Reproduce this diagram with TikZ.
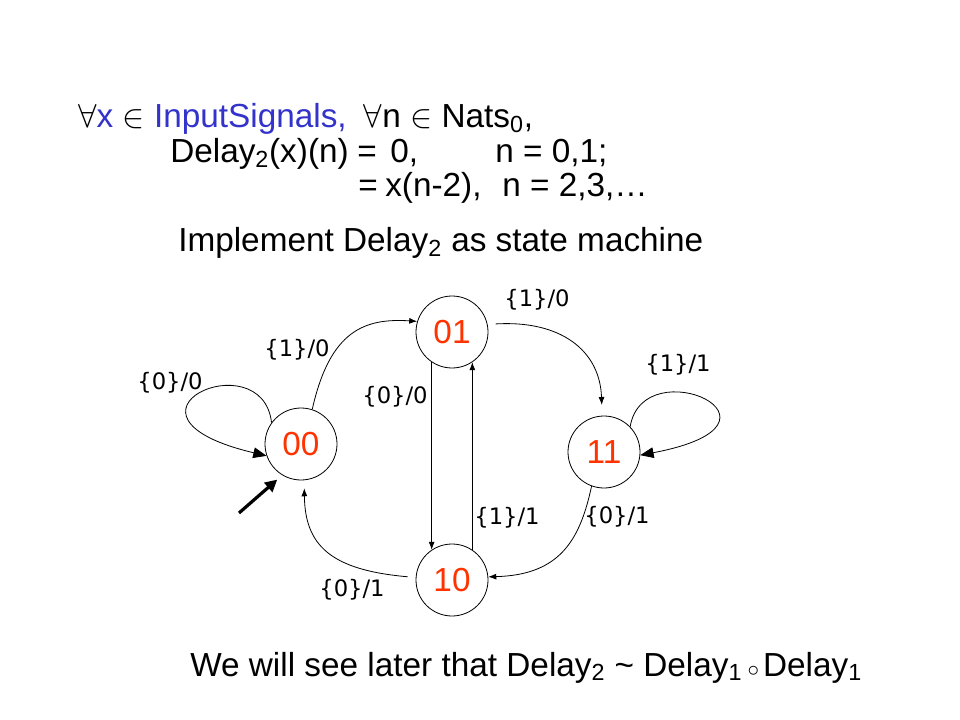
\documentclass[tikz,border=0pt]{standalone}
\usepackage{fontspec}
\setmainfont{Liberation Sans}
\newfontfamily\labelfont{DejaVu Sans}
\usetikzlibrary{arrows.meta}
\definecolor{sigblue}{RGB}{51,51,204}
\definecolor{statered}{RGB}{255,51,0}
\begin{document}
\begin{tikzpicture}
    [x=0.75pt,y=-0.75pt,
     stnode/.style={circle,draw,line width=0.6pt,minimum size=54pt,inner sep=0pt,text=statered,font=\fontsize{25}{30}\selectfont},
     txt/.style={anchor=base west,inner sep=0pt,font=\fontsize{25}{30}\selectfont},
     lab/.style={inner sep=0pt,font=\labelfont\fontsize{17}{20}\selectfont},
     trans/.style={line width=0.6pt,-{Latex[length=6pt,width=4.5pt]}},
     selfloop/.style={line width=0.6pt,-{Triangle[length=10pt,width=8pt]}}]
    \useasboundingbox (0,0) rectangle (960,720);

    \node[txt] (l1) at (78,128) {$\forall$\textcolor{sigblue}{x} $\in$ \textcolor{sigblue}{InputSignals,}\hspace{6pt} $\forall$n $\in$ Nats\textsubscript{0},};
    \node[txt] (l2a) at (170,163) {Delay\textsubscript{2}(x)(n)};
    \node[txt] (l2b) at (357,163) {=};
    \node[txt] (l2c) at (390,163) {0,};
    \node[txt] (l2d) at (495,163) {n = 0,1;};
    \node[txt] (l3a) at (358,197) {=};
    \node[txt] (l3b) at (385,197) {x(n-2),};
    \node[txt] (l3c) at (502,197) {n = 2,3,…};
    \node[txt] (l4) at (178,252) {Implement Delay\textsubscript{2} as state machine};
    \node[txt] (l5) at (190,676) {We will see later that Delay\textsubscript{2} \textasciitilde{} Delay\textsubscript{1}$\,\scriptstyle\circ\,$Delay\textsubscript{1}};

    \node[stnode] (s00) at (301,444) {00};
    \node[stnode] (s01) at (452,332) {01};
    \node[stnode] (s11) at (604,452) {11};
    \node[stnode] (s10) at (452,580) {10};
    \coordinate (init) at (239,513);

    \draw[trans] (s00.72) .. controls (330,330) and (365,318) .. (s01.163);
    \draw[trans,shorten <=6pt,shorten >=8pt] (s01.12) .. controls (560,320) and (600,350) .. (s11.93);
    \draw[trans] (s01.236) -- (s10.124);
    \draw[trans] (s10.56) -- (s01.304);
    \draw[trans] (s11.250) .. controls (580,540) and (560,575) .. (s10.5);
    \draw[trans,shorten <=6pt,shorten >=6pt] (s10.176) .. controls (330,570) and (305,545) .. (s00.-85);
    \draw[selfloop] (s00.144) .. controls (262,340) and (95,415) .. (s00.199);
    \draw[selfloop] (s11.44) .. controls (643,348) and (810,423) .. (s11.-5);
    \draw[line width=2.4pt,-{Triangle[length=9pt,width=9pt]},shorten >=5pt] (init) -- (s00.239);

    \node[lab] (la) at (170,383) {\{0\}/0};
    \node[lab] (lb) at (297,350) {\{1\}/0};
    \node[lab] (lc) at (395,397) {\{0\}/0};
    \node[lab] (ld) at (537,300) {\{1\}/0};
    \node[lab] (le) at (678,365) {\{1\}/1};
    \node[lab] (lf) at (507,518) {\{1\}/1};
    \node[lab] (lg) at (617,517) {\{0\}/1};
    \node[lab] (lh) at (352,590) {\{0\}/1};
\end{tikzpicture}
\end{document}
